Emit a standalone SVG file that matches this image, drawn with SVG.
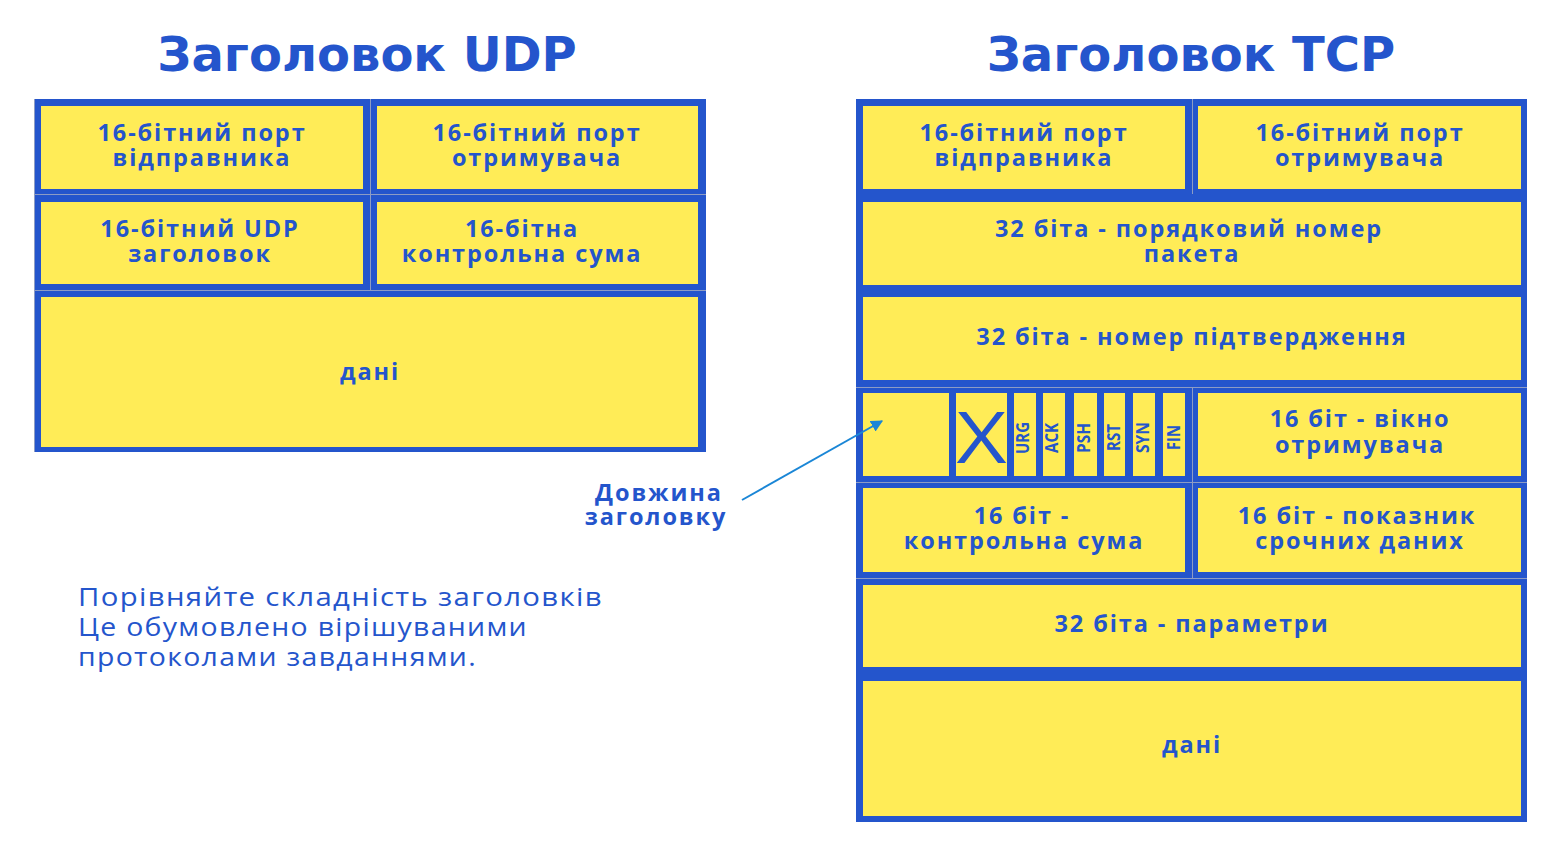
<svg xmlns="http://www.w3.org/2000/svg" width="1560" height="858" viewBox="0 0 1560 858">
<defs>
<style>
.bg{fill:#2455cc}
.cell{fill:#ffec57}
.grid{stroke:#8d9cc4;stroke-width:1;fill:none}
.t{font-family:"Open Sans","DejaVu Sans",sans-serif;font-weight:bold;font-size:23.5px;letter-spacing:1.9px;fill:#2455cc;text-anchor:middle}
.title{font-family:"DejaVu Sans","Open Sans",sans-serif;font-weight:bold;font-size:48px;fill:#2455cc;text-anchor:middle}
.flag{font-family:"Open Sans","DejaVu Sans",sans-serif;font-weight:bold;font-size:17px;fill:#2455cc;text-anchor:middle}
.note{font-family:"Open Sans","Noto Sans",sans-serif;font-size:26px;letter-spacing:1.2px;fill:#2455cc}
</style>
<marker id="ah" viewBox="0 0 10 10" refX="9" refY="5" markerWidth="6" markerHeight="6" orient="auto" markerUnits="strokeWidth">
<path d="M0,0 L10,5 L0,10 z" fill="#1a86d6"/>
</marker>
</defs>
<rect width="1560" height="858" fill="#ffffff"/>

<text class="title" x="367" y="71">Заголовок UDP</text>
<text class="title" x="1191" y="71">Заголовок TCP</text>

<g id="udp">
<rect class="bg" x="34" y="99" width="672" height="353"/>
<path class="grid" d="M34.5,99 V452 M370.5,99 V290 M34,194.5 H706 M34,290.5 H706"/>
<g id="udp-src"><rect class="cell" x="41" y="106" width="322" height="83"/>
<text class="t" x="202" y="141">16-бітний порт</text><text class="t" x="202" y="166">відправника</text></g>
<g id="udp-dst"><rect class="cell" x="377" y="106" width="321" height="83"/>
<text class="t" x="537" y="141">16-бітний порт</text><text class="t" x="537" y="166">отримувача</text></g>
<g id="udp-len"><rect class="cell" x="41" y="202" width="322" height="82"/>
<text class="t" x="200" y="237">16-бітний UDP</text><text class="t" x="200" y="262">заголовок</text></g>
<g id="udp-sum"><rect class="cell" x="377" y="202" width="321" height="82"/>
<text class="t" x="522" y="237">16-бітна</text><text class="t" x="522" y="262">контрольна сума</text></g>
<g id="udp-data"><rect class="cell" x="41" y="297" width="657" height="150"/>
<text class="t" x="370" y="380">дані</text></g>
</g>

<g id="tcp">
<rect class="bg" x="856" y="99" width="671" height="723"/>
<path class="grid" d="M1192.5,99 V194 M856,387.5 H1527 M856,482.5 H1527 M856,578.5 H1527 M1192.5,387 V578"/>
<g id="tcp-src"><rect class="cell" x="863" y="106" width="322" height="83"/>
<text class="t" x="1024" y="141">16-бітний порт</text><text class="t" x="1024" y="166">відправника</text></g>
<g id="tcp-dst"><rect class="cell" x="1198" y="106" width="323" height="83"/>
<text class="t" x="1360" y="141">16-бітний порт</text><text class="t" x="1360" y="166">отримувача</text></g>
<g id="tcp-seq"><rect class="cell" x="863" y="202" width="658" height="83"/>
<text class="t" x="1189" y="237">32 біта - порядковий номер</text><text class="t" x="1192" y="262">пакета</text></g>
<g id="tcp-ack"><rect class="cell" x="863" y="297" width="658" height="83"/>
<text class="t" x="1192" y="345">32 біта - номер підтвердження</text></g>
<g id="tcp-hlen"><rect class="cell" x="863" y="393" width="86" height="83"/></g>
<g id="tcp-res"><rect class="cell" x="956" y="393" width="51" height="83"/>
<text x="981.5" y="463" font-family="Open Sans, sans-serif" font-size="72" fill="#2455cc" text-anchor="middle" textLength="50" lengthAdjust="spacingAndGlyphs">X</text></g>
<g id="tcp-urg"><rect class="cell" x="1014" y="393" width="22" height="83"/>
<text class="flag" transform="translate(1029,438) rotate(-90)" textLength="32" lengthAdjust="spacingAndGlyphs">URG</text></g>
<g id="tcp-ackf"><rect class="cell" x="1043" y="393" width="22" height="83"/>
<text class="flag" transform="translate(1058,438) rotate(-90)" textLength="30" lengthAdjust="spacingAndGlyphs">ACK</text></g>
<g id="tcp-psh"><rect class="cell" x="1074" y="393" width="23" height="83"/>
<text class="flag" transform="translate(1090,438) rotate(-90)" textLength="30" lengthAdjust="spacingAndGlyphs">PSH</text></g>
<g id="tcp-rst"><rect class="cell" x="1104" y="393" width="21" height="83"/>
<text class="flag" transform="translate(1120,437.5) rotate(-90)" textLength="27" lengthAdjust="spacingAndGlyphs">RST</text></g>
<g id="tcp-syn"><rect class="cell" x="1133" y="393" width="22" height="83"/>
<text class="flag" transform="translate(1149,437.5) rotate(-90)" textLength="31" lengthAdjust="spacingAndGlyphs">SYN</text></g>
<g id="tcp-fin"><rect class="cell" x="1163" y="393" width="22" height="83"/>
<text class="flag" transform="translate(1180,437.5) rotate(-90)" textLength="25" lengthAdjust="spacingAndGlyphs">FIN</text></g>
<g id="tcp-win"><rect class="cell" x="1198" y="393" width="323" height="83"/>
<text class="t" x="1360" y="427">16 біт - вікно</text><text class="t" x="1360" y="453">отримувача</text></g>
<g id="tcp-sum"><rect class="cell" x="863" y="488" width="322" height="84"/>
<text class="t" x="1022" y="524">16 біт -</text><text class="t" x="1024" y="549">контрольна сума</text></g>
<g id="tcp-urgp"><rect class="cell" x="1198" y="488" width="323" height="84"/>
<text class="t" x="1357" y="524">16 біт - показник</text><text class="t" x="1360" y="549">срочних даних</text></g>
<g id="tcp-opt"><rect class="cell" x="863" y="585" width="658" height="82"/>
<text class="t" x="1192" y="632">32 біта - параметри</text></g>
<g id="tcp-data"><rect class="cell" x="863" y="681" width="658" height="135"/>
<text class="t" x="1192" y="753">дані</text></g>
</g>

<g id="label-hlen">
<text class="t" x="659" y="501">Довжина</text>
<text class="t" x="656" y="525">заголовку</text>
</g>

<g id="connectors">
<line x1="742" y1="500" x2="882" y2="421" stroke="#1a86d6" stroke-width="2" marker-end="url(#ah)"/>
</g>

<g id="note">
<text class="note" x="78" y="606" textLength="525" lengthAdjust="spacingAndGlyphs">Порівняйте складність заголовків</text>
<text class="note" x="78" y="636" textLength="450" lengthAdjust="spacingAndGlyphs">Це обумовлено вірішуваними</text>
<text class="note" x="78" y="666" textLength="399" lengthAdjust="spacingAndGlyphs">протоколами завданнями.</text>
</g>
</svg>
